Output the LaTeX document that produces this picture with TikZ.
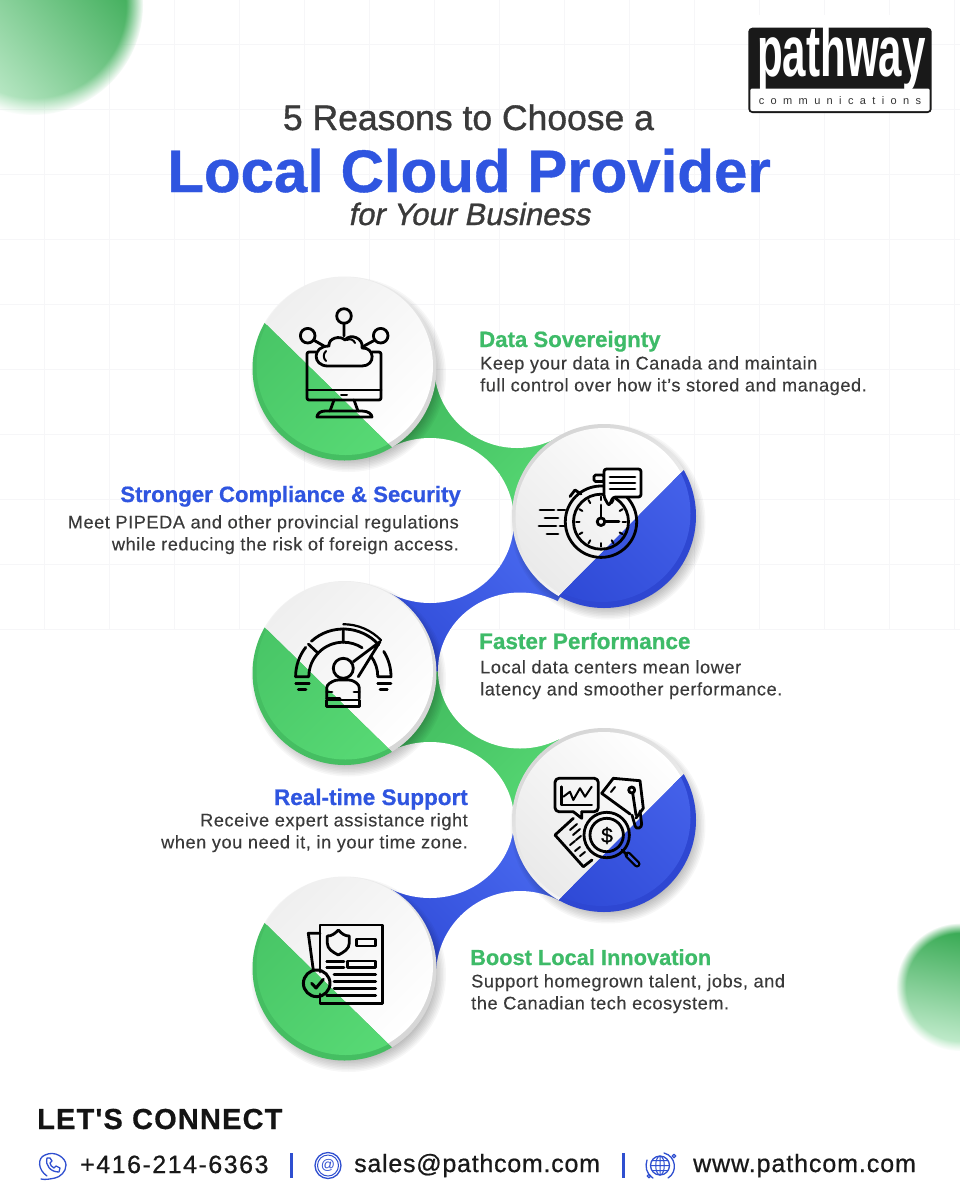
\documentclass[tikz,border=0pt]{standalone}
\usepackage{fontspec}
\usetikzlibrary{fadings}
\setmainfont{Liberation Sans}
\newfontfamily\medf[FakeBold=1]{Liberation Sans}
\newfontfamily\medit[FakeBold=1,FakeSlant=0.2]{Liberation Sans}
\newfontfamily\heavy[BoldFeatures={FakeBold=0.7}]{Liberation Sans}
\newfontfamily\bodyf[LetterSpace=3,FakeBold=0.2]{Liberation Sans}
\newfontfamily\footf[LetterSpace=3,FakeBold=0.7]{Liberation Sans}
\newfontfamily\footw[LetterSpace=3.7,FakeBold=0.7]{Liberation Sans}
\newfontfamily\footp[LetterSpace=6,FakeBold=0.7]{Liberation Sans}
\newfontfamily\connf[LetterSpace=4,BoldFeatures={FakeBold=0.5}]{Liberation Sans}
\newfontfamily\logosp[LetterSpace=58]{Liberation Sans}
\definecolor{gdark}{HTML}{3FB85C}
\definecolor{glight}{HTML}{58DA75}
\definecolor{bdark}{HTML}{2E49D6}
\definecolor{blight}{HTML}{4C6DF2}
\definecolor{bface}{HTML}{4562EA}
\definecolor{brim}{HTML}{2E47D2}
\definecolor{grim}{HTML}{45BE62}
\definecolor{headg}{HTML}{3EBB68}
\definecolor{headb}{HTML}{2F55E0}
\definecolor{bodyt}{HTML}{3A3A3A}
\definecolor{gridc}{HTML}{F6F6F8}
\definecolor{foot}{HTML}{2F4FD0}
\definecolor{F1}{HTML}{F3F3F3}
\definecolor{F0}{HTML}{EFEFEF}
\definecolor{D8}{HTML}{D6D6D6}
\definecolor{EC}{HTML}{EAEAEA}
\definecolor{G1}{HTML}{48C566}
\definecolor{G2}{HTML}{2DA54A}
\definecolor{G3}{HTML}{C9EFD3}
\definecolor{G4}{HTML}{52C16F}
\pgfdeclareradialshading{blobmask}{\pgfpointorigin}{%
 color(0bp)=(pgftransparent!0); color(21bp)=(pgftransparent!0); color(25bp)=(pgftransparent!100); color(50bp)=(pgftransparent!100)}
\pgfdeclarefading{blobfade}{\pgfuseshading{blobmask}}
\tikzset{
 icon/.style={line width=2.8pt,black,line cap=round,line join=round},
 iconthin/.style={icon,line width=2pt},
 footicon/.style={line width=1.3pt,foot,line cap=round,line join=round},
 heading/.style={font=\fontsize{22.2}{24}\selectfont\heavy\bfseries,inner sep=0pt},
 bodytext/.style={font=\fontsize{18.2}{22}\selectfont\bodyf,text=bodyt,inner sep=0pt},
 foottext/.style={font=\fontsize{25}{26}\selectfont\footf,text=black!90,inner sep=0pt,anchor=base west},
}
\newcommand{\gridlines}{%
 \foreach \g in {44,109,...,954}{\draw[gridc,line width=.8pt] (\g,0)--(\g,630);}
 \foreach \g in {44,109,...,629}{\draw[gridc,line width=.8pt] (0,\g)--(960,\g);}}
\newcommand{\discshadow}{%
 \foreach \rr in {84,85.5,...,98}{\fill[black,opacity=.03] (4,6) circle[radius=\rr];}}
\newcommand{\odddisc}[2]{%
 \begin{scope}[shift={(#1,#2)}]
  \discshadow
  \begin{scope}
   \clip (-200,-163)--(200,228)--(200,-200)--(-200,-200)--cycle;
   \shade[top color=F1,bottom color=D8,shading angle=45] (0,0) circle[radius=92];
   \shade[top color=F0,bottom color=white,shading angle=45] (-.5,-2.5) circle[radius=89];
  \end{scope}
  \begin{scope}
   \clip (-200,-163)--(200,228)--(-200,228)--cycle;
   \fill[grim] (0,0) circle[radius=92];
   \shade[top color=G1,bottom color=glight,shading angle=45] (1,-2.5) circle[radius=89];
  \end{scope}
 \end{scope}}
\newcommand{\evendisc}[2]{%
 \begin{scope}[shift={(#1,#2)}]
  \discshadow
  \begin{scope}
   \clip (200,-167)--(-200,236)--(-200,-200)--(200,-200)--cycle;
   \shade[top color=D8,bottom color=white,shading angle=30] (0,0) circle[radius=92];
   \shade[top color=white,bottom color=EC,shading angle=-45] (0,.5) circle[radius=88.5];
  \end{scope}
  \begin{scope}
   \clip (200,-167)--(-200,236)--(200,236)--cycle;
   \fill[brim] (0,0) circle[radius=92];
   \shade[top color=bface,bottom color=bdark,shading angle=-45] (-2,-2.5) circle[radius=88.5];
  \end{scope}
 \end{scope}}
\begin{document}
\begin{tikzpicture}[x=1pt,y=-1pt]
\useasboundingbox (0,0) rectangle (960,1200);
\fill[white] (0,0) rectangle (960,1200);
\gridlines
% blobs
\shade[top color=G2,middle color=G4,bottom color=G3,shading angle=-50,path fading=blobfade,fit fading=true]
  (33,5) circle[radius=110];
\shade[top color=G2,middle color=G4,bottom color=G3,shading angle=-10,path fading=blobfade,fit fading=true]
  (960,987) circle[radius=64];
% named centres
\coordinate (c1) at (344.5,368.5);
\coordinate (c2) at (604,516);
\coordinate (c3) at (344.5,673);
\coordinate (c4) at (604,820);
\coordinate (c5) at (344.5,968.5);
\coordinate (w1) at (517,365);
\coordinate (w2) at (430,520.5);
\coordinate (w3) at (520,670.5);
\coordinate (w4) at (430,820);
\coordinate (w5) at (520,975);
% connectors
\shade[top color=gdark,bottom color=glight,shading angle=45] (c1)--(w1)--(c2)--(w2)--cycle;
\shade[top color=blight,bottom color=bdark,shading angle=-45] (c2)--(w2)--(c3)--(w3)--cycle;
\shade[top color=gdark,bottom color=glight,shading angle=45] (c3)--(w3)--(c4)--(w4)--cycle;
\shade[top color=blight,bottom color=bdark,shading angle=-45] (c4)--(w4)--(c5)--(w5)--cycle;
\fill[white] (w1) circle[radius=83];
\fill[white] (w2) ellipse[x radius=84,y radius=82.5];
\fill[white] (w3) ellipse[x radius=82,y radius=78];
\fill[white] (w4) ellipse[x radius=84,y radius=78];
\fill[white] (w5) circle[radius=84];
\begin{scope}\clip (w1) circle[radius=83];\gridlines\end{scope}
\begin{scope}\clip (w2) ellipse[x radius=84,y radius=82.5];\gridlines\end{scope}
\begin{scope}\clip (w3) ellipse[x radius=82,y radius=78];\gridlines\end{scope}
% discs
\odddisc{344.5}{368.5}
\evendisc{604}{516}
\odddisc{344.5}{673}
\evendisc{604}{820}
\odddisc{344.5}{968.5}
% icon 1
\draw[icon,rounded corners=2pt] (316,352)--(307,352)--(307,400)--(381,400)--(381,352)--(372,352);
\draw[icon] (307,390)--(381,390);
\draw[iconthin] (341,395)--(347,395);
\draw[icon] (334,400)--(330,411) (354,400)--(358,411);
\draw[icon] (325,411)--(362,411) .. controls (368,411) and (372,414) .. (372,417) -- (317,417) .. controls (317,414) and (320,411) .. (325,411) -- cycle;
\draw[icon] (328,366)--(362,366) .. controls (376,366) and (375,347) .. (362,348) .. controls (364,338) and (350,333) .. (345,340) .. controls (340,335) and (328,338) .. (329,346) .. controls (312,346) and (312,366) .. (328,366) -- cycle;
\draw[iconthin] (326,351) .. controls (323,354) and (323,358) .. (326,361);
\draw[iconthin] (347,340) .. controls (350,338) and (354,340) .. (355,343);
\draw[icon] (344,316) circle[radius=7.3] (307.7,335.7) circle[radius=7.3] (380.7,335.7) circle[radius=7.3];
\draw[icon] (344,323)--(344,336) (313.5,340)--(324,346) (375,340)--(364,346);
% icon 2
\draw[icon] (601,521.7) circle[radius=35.7];
\draw[icon] (601,521.7) circle[radius=27.5];
\foreach \a in {0,30,...,330}{\draw[icon,line width=2pt] (601,521.7)++(\a:21.5)--++(\a:3.5);}
\draw[icon] (601,521.7) circle[radius=3.8];
\draw[icon] (601,517.9)--(601,505) (604.8,521.7)--(619,521.7);
\draw[icon,rounded corners=1.5pt] (594,475) rectangle (604,481.5);
\draw[icon] (570,496.5)--(575,490)--(581,494);
\draw[icon,fill=white,rounded corners=2.5pt] (604,469)--(641,469)--(641,497)--(613,497)--(609,506)--(604,497)--cycle;
\draw[icon] (610,477)--(635,477) (610,483)--(635,483) (610,489)--(635,489);
\draw[icon] (540,510)--(554,510) (558,510)--(565,510) (545,518)--(558,518) (539,526)--(556,526) (560,526)--(565,526) (547,534)--(558,534);
% icon 3
\draw[icon] (343.3,676.7) ++(180:47.7) arc[start angle=180,end angle=218,radius=47.7];
\draw[icon] (343.3,676.7) ++(228:47.7) arc[start angle=228,end angle=318,radius=47.7];
\draw[icon] (343.3,676.7) ++(328:47.7) arc[start angle=328,end angle=360,radius=47.7] -- ++(-13.2,0) arc[start angle=0,end angle=-37,radius=34.5];
\draw[icon] (343.3,676.7) ++(180:47.7) -- ++(13.2,0) arc[start angle=180,end angle=303,radius=34.5];
\draw[icon] (343.3,676.7) ++(270:34.5)--++(270:13.2) (343.3,676.7)++(223:34.5)--++(223:13.2);
\draw[icon,line width=2.2pt] (343.3,676.7) ++(270:52.5) arc[start angle=270,end angle=316,radius=52.5];
\draw[icon] (353.3,661.7)--(380,641.7)--(358.3,676.7);
\draw[icon] (343.3,668.3) circle[radius=10];
\draw[icon,rounded corners=3pt] (326.7,698.3)--(326.7,685)--(335,680)--(352,680)--(359.3,685)--(359.3,698.3);
\draw[icon] (326.7,698.3)--(340,698.3) (326.7,692)--(332,692) (354,692)--(359.3,692);
\draw[icon] (326.7,700)rectangle(359.3,706.5);
\draw[icon] (295.7,683.3)--(309.3,683.3) (298.3,689.3)--(306,689.3) (377.7,683.3)--(391,683.3) (380,689.3)--(387.3,689.3);
% icon 4
\draw[icon,rounded corners=4pt] (573.3,811.7)--(555,811.7)--(555,778.3)--(598.3,778.3)--(598.3,811.7)--(581.7,811.7);
\draw[icon] (573.3,811.7)--(581.7,818.3)--(581.7,811.7);
\draw[icon] (561.7,786.7)--(561.7,805)--(591.7,805);
\draw[iconthin] (563.3,796.7)--(570,791.7)--(573.3,800)--(580,788.3)--(585,796.7)--(591.7,786.7);
\draw[icon] (601.7,793.3)--(613.3,778.3)--(640,780.7)--(643.3,808.3)--(636,818);
\draw[icon] (601.7,793.3)--(630,814);
\draw[iconthin] (615,787)--(611,792);
\draw[icon] (631.7,790) circle[radius=3];
\draw[icon] (632.7,793)--(636,815);
\draw[icon,rounded corners=3pt] (632,815)--(636,829)--(642,827)--(640,811);
\draw[icon] (573.3,818.3)--(555,835)--(583.3,866.7)--(592,860);
\draw[iconthin] (570,830)--(577,824) (573,835)--(580,829) (576,840)--(581,836) (570,845)--(575,841) (575,851)--(580,847) (580,856)--(585,852);
\draw[icon] (606.7,835) circle[radius=22.7];
\draw[icon] (606.7,835) circle[radius=16.7];
\node[inner sep=0pt,font=\fontsize{21}{21}\selectfont\medf] (dollar) at (607,835.5) {\$};
\draw[black,line width=7pt,line cap=round] (628,855)--(637,864);
\draw[bdark!50!blight,line width=2.4pt,line cap=round] (628,855)--(637,864);
\draw[icon] (622,850)--(627,855);
% icon 5
\draw[icon] (320,972)--(320,925)--(382.7,925)--(382.7,1003.3)--(320,1003.3)--(320,994);
\draw[icon] (320,933.3)--(308.3,933.3)--(313.3,970);
\draw[icon] (338.3,930) .. controls (342,934) and (345,936) .. (349.3,936) -- (349.3,943) .. controls (349.3,949) and (344,952) .. (338.3,955) .. controls (332.6,952) and (327.3,949) .. (327.3,943) -- (327.3,936) .. controls (331.6,936) and (334.6,934) .. (338.3,930) -- cycle;
\draw[icon] (356.7,939) rectangle (375.7,946);
\draw[icon] (326.7,961.7)--(344,961.7) (326.7,967.3)--(344,967.3);
\draw[icon] (347.3,961) rectangle (375.7,967.3);
\draw[icon] (334,974.3)--(375.7,974.3) (334,981.3)--(375.7,981.3) (334,988.3)--(375.7,988.3) (326.7,995.7)--(375.7,995.7);
\draw[icon,line width=3pt] (316.7,983.3) circle[radius=13.3];
\draw[icon,line width=3pt] (311.7,983.3)--(316,988)--(323.3,979.3);
% title
\node[inner sep=0pt,anchor=base,font=\fontsize{35.5}{36}\selectfont\medf,text=bodyt] (t1) at (468.5,130) {5 Reasons to Choose a};
\node[inner sep=0pt,anchor=base,font=\fontsize{60}{66}\selectfont\heavy\bfseries,text=headb] (t2) at (469,192) {Local Cloud Provider};
\node[inner sep=0pt,anchor=base,font=\fontsize{31}{32}\selectfont\medit,text=bodyt] (t3) at (469,225) {for Your Business};
% headings & bodies
\node[heading,text=headg,anchor=base west] (h1) at (479,347) {Data Sovereignty};
\node[bodytext,anchor=north west,align=left] (b1) at (480,356) {Keep your data in Canada and maintain\\full control over how it’s stored and managed.};
\node[heading,text=headb,anchor=base east] (h2) at (461,502) {Stronger Compliance \& Security};
\node[bodytext,anchor=north east,align=right] (b2) at (459,515) {Meet PIPEDA and other provincial regulations\hspace{4pt}\\while reducing the risk of foreign access.};
\node[heading,font=\fontsize{22.5}{24}\selectfont\heavy\bfseries,text=headg,anchor=base west] (h3) at (479,649) {Faster Performance};
\node[bodytext,anchor=north west,align=left] (b3) at (480,660) {Local data centers mean lower\\latency and smoother performance.};
\node[heading,font=\fontsize{22.5}{24}\selectfont\heavy\bfseries,text=headb,anchor=base east] (h4) at (468,805) {Real-time Support};
\node[bodytext,anchor=north east,align=right] (b4) at (468,813) {Receive expert assistance right\\when you need it, in your time zone.};
\node[heading,font=\fontsize{21.8}{24}\selectfont\heavy\bfseries,text=headg,anchor=base west] (h5) at (470,965) {Boost Local Innovation};
\node[bodytext,anchor=north west,align=left] (b5) at (471,974) {Support homegrown talent, jobs, and\\the Canadian tech ecosystem.};
% logo
\fill[black!90,rounded corners=4pt] (748.3,27.7) rectangle (931.7,113);
\fill[white,rounded corners=2pt] (750.3,88.5) rectangle (929.7,111);
\node[inner sep=0pt,anchor=base,text=white] (logo) at (841.5,76.7) {\scalebox{.585}[1]{\fontsize{72}{72}\selectfont\bfseries pathway}};
\fill[white] (745,15) rectangle (935,27.2);
\node[inner sep=0pt,anchor=base,text=black!80] (logo2) at (840,104) {\fontsize{11}{12}\selectfont\logosp communications};
% footer
\node[inner sep=0pt,anchor=base west,font=\fontsize{29}{30}\selectfont\connf\bfseries,text=black!92] (conn) at (37,1129) {LET\symbol{39}S CONNECT};
\node[foottext,font=\fontsize{25}{26}\selectfont\footp] (f1) at (80,1173) {+416-214-6363};
\node[foottext] (f2) at (354,1172) {sales@pathcom.com};
\node[foottext,font=\fontsize{25}{26}\selectfont\footw] (f3) at (693,1172) {www.pathcom.com};
\coordinate (s1a) at (291,1153); \coordinate (s1b) at (291,1178);
\coordinate (s2a) at (623,1153); \coordinate (s2b) at (623,1178);
\draw[foot,line width=3pt] (s1a)--(s1b) (s2a)--(s2b);
% phone icon
\draw[footicon] (47,1176) .. controls (38,1170) and (37,1158) .. (45,1155) .. controls (55,1150) and (66,1158) .. (66,1165) .. controls (66,1172) and (60,1177) .. (55,1178) .. controls (50,1179) and (45,1180) .. (41,1179);
\draw[footicon] (47,1158) .. controls (45,1166) and (51,1172) .. (59,1172) -- (60,1168) -- (56,1166) -- (54,1168) .. controls (52,1167) and (50,1165) .. (50,1163) -- (52,1161) -- (50,1158) -- cycle;
% at icon
\draw[footicon] (328,1165.5) circle[radius=13];
\draw[footicon,line width=1pt] (328,1165.5) circle[radius=10.5];
\node[inner sep=0pt,font=\fontsize{14}{14}\selectfont,text=foot] (atsign) at (328,1165) {@};
% globe icon
\draw[footicon] (660,1165.5) circle[radius=9.5];
\draw[footicon,line width=1pt] (660,1165.5) ellipse[x radius=4.3,y radius=9.5] (650.5,1165.5)--(669.5,1165.5) (652,1160.5)--(668,1160.5) (652,1170.5)--(668,1170.5) (660,1156)--(660,1175);
\draw[footicon] (664,1153) .. controls (676,1156) and (678,1172) .. (668,1178) (653,1178) .. controls (646,1174) and (645,1166) .. (647,1160);
\draw[footicon] (674,1156) circle[radius=1.8] (649,1176) circle[radius=1.8];
\end{tikzpicture}
\end{document}
